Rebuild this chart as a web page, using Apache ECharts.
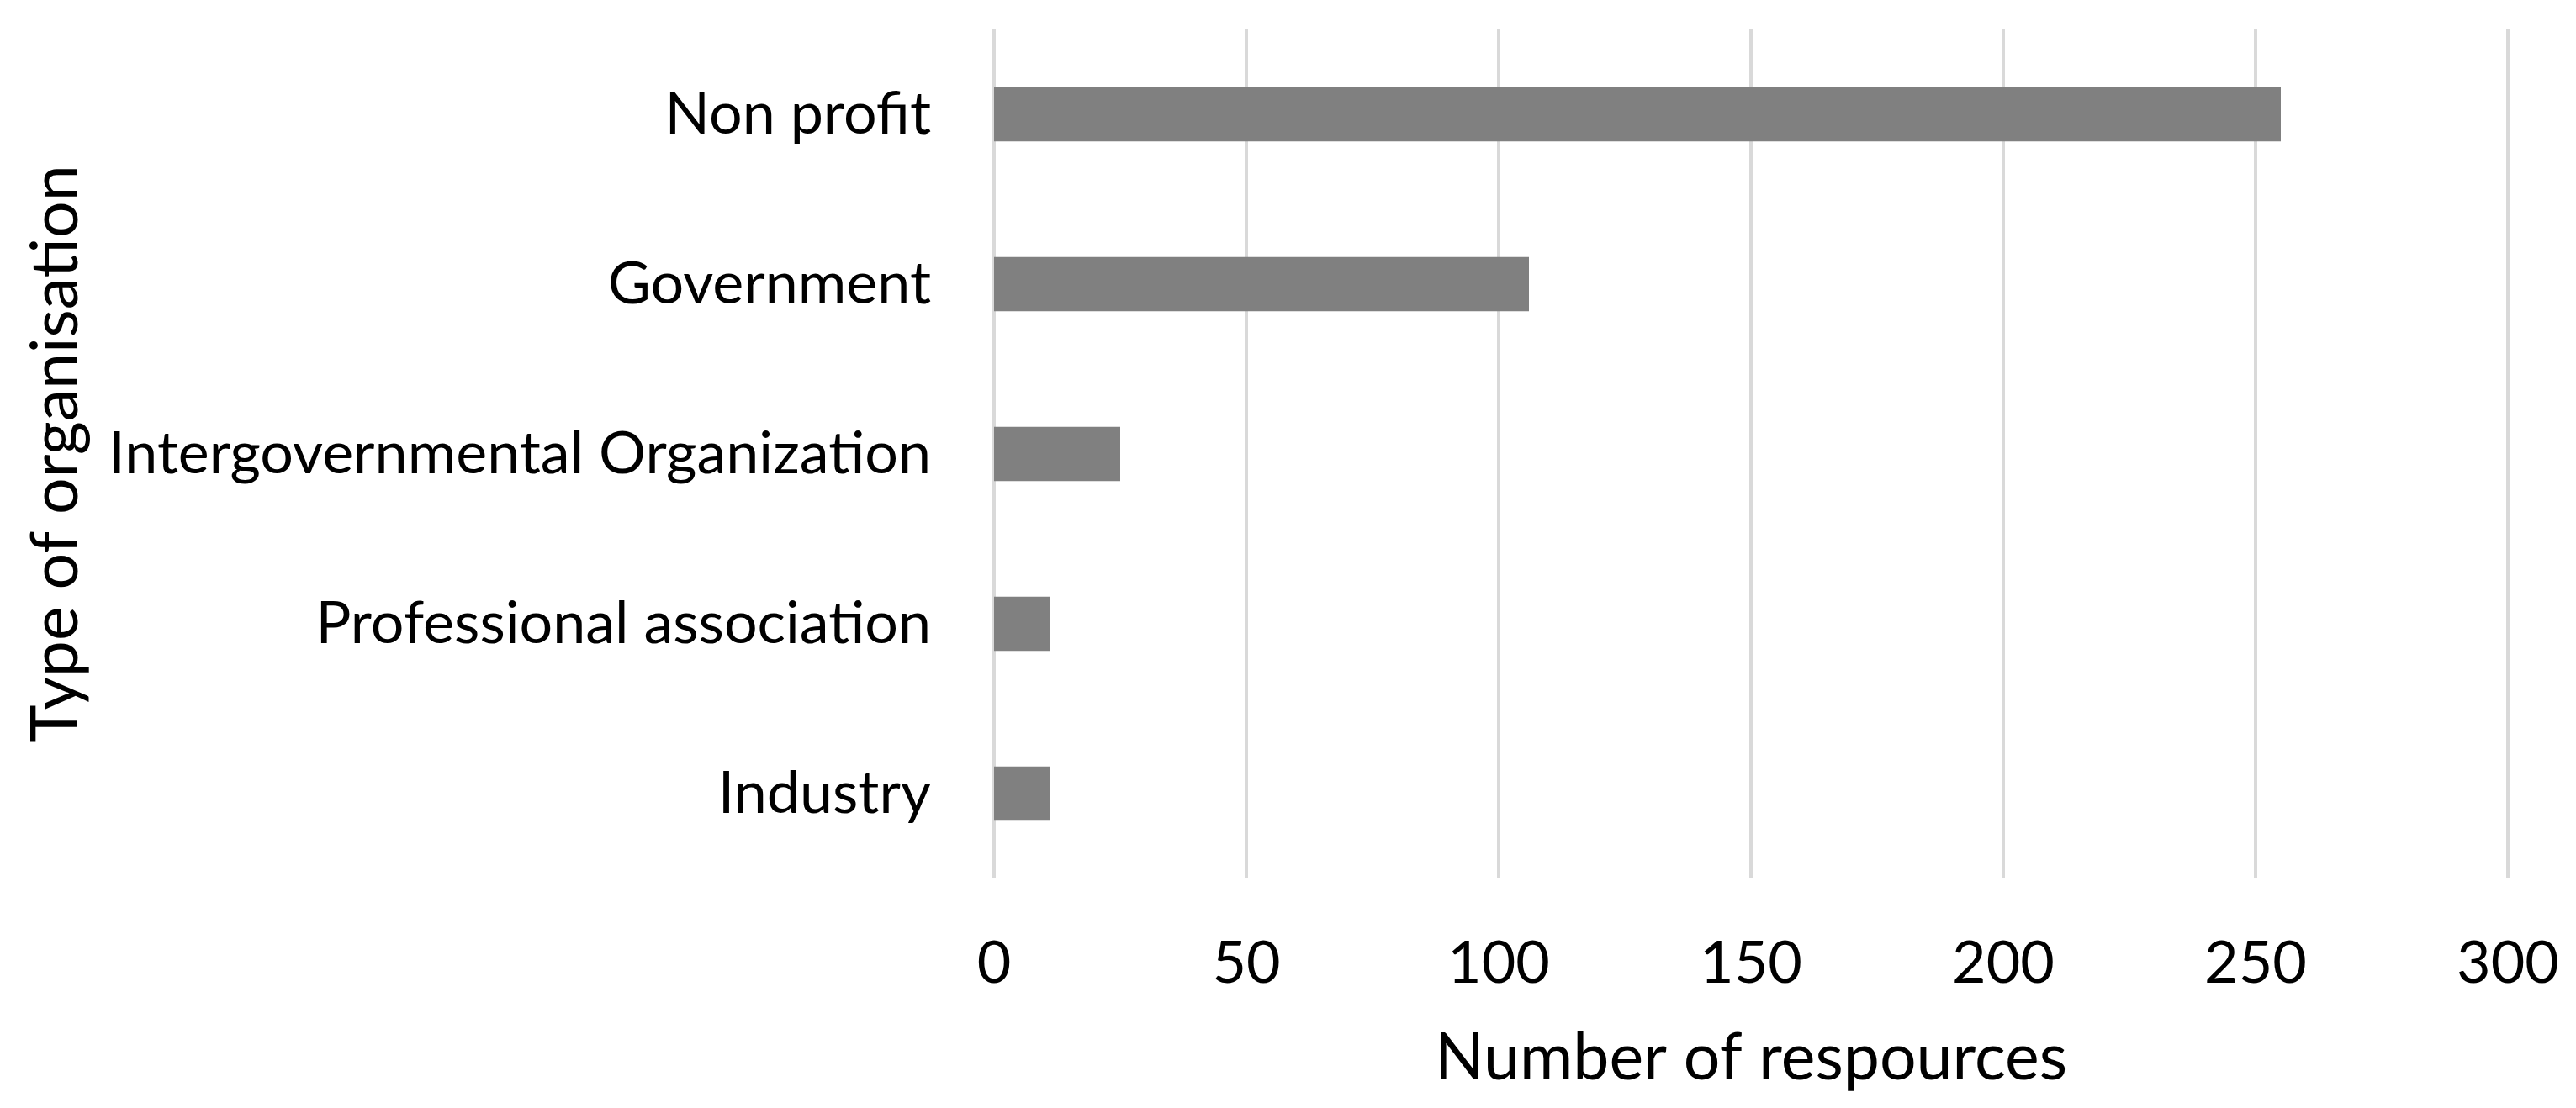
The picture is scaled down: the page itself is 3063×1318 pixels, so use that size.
<!DOCTYPE html>
<html>
<head>
<meta charset="utf-8">
<script src="https://cdn.jsdelivr.net/npm/echarts@6/dist/echarts.min.js"></script>
<style>
  html, body { margin: 0; padding: 0; background: #fff; }
  #chart { width: 3063px; height: 1318px; }
</style>
</head>
<body>
<div id="chart"></div>
<script>
const categories = ['Non profit', 'Government', 'Intergovernmental Organization', 'Professional association', 'Industry'];
const resources = [255, 106, 25, 11, 11];
const xTicks = [0, 50, 100, 150, 200, 250, 300];

const FONT = 'Lato';

// fit the label font so the longest category is about as wide as in the picture
function fitSize(text, width){
  const ctx = document.createElement('canvas').getContext('2d');
  ctx.font = '100px ' + FONT;
  return Math.round(100 * width / ctx.measureText(text).width);
}
const labelSize = fitSize('Intergovernmental Organization', 978);
const titleSize = fitSize('Number of respources', 752);

const chart = echarts.init(document.getElementById('chart'));
chart.setOption({
  backgroundColor: '#fff',
  animation: false,
  textStyle: {fontFamily: FONT, color: '#000'},
  grid: {left: 1182, right: 81, top: 35, bottom: 273, containLabel: false},
  xAxis: {
    type: 'value',
    min: xTicks[0],
    max: xTicks[xTicks.length - 1],
    interval: xTicks[1] - xTicks[0],
    name: 'Number of respources',
    nameLocation: 'middle',
    nameGap: 176,
    nameTextStyle: {fontSize: titleSize, color: '#000', fontFamily: FONT},
    axisLine: {show: false},
    axisTick: {show: false},
    axisLabel: {fontSize: labelSize, color: '#000', margin: 66, fontFamily: FONT},
    splitLine: {show: true, lineStyle: {color: '#d9d9d9', width: 4}}
  },
  yAxis: {
    type: 'category',
    inverse: true,
    data: categories,
    name: 'Type of organisation',
    nameLocation: 'middle',
    nameGap: 1076,
    nameRotate: 90,
    nameTextStyle: {fontSize: titleSize, color: '#000', fontFamily: FONT},
    axisLine: {show: false},
    axisTick: {show: false},
    axisLabel: {fontSize: labelSize, color: '#000', margin: 75, fontFamily: FONT}
  },
  series: [{
    type: 'bar',
    data: resources,
    barCategoryGap: '68%',
    itemStyle: {color: '#808080'},
    silent: true
  }]
});
</script>
</body>
</html>
